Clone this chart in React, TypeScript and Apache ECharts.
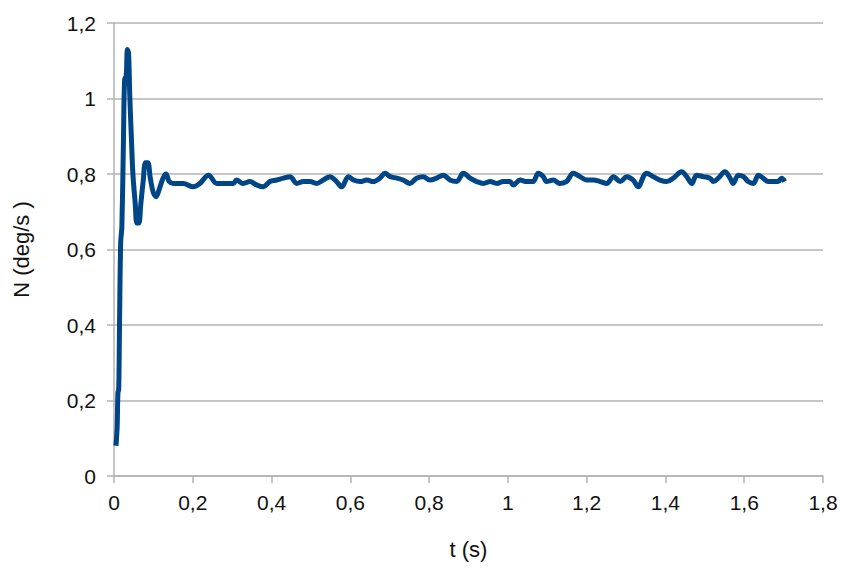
import React, { useEffect, useRef } from "react";
import * as echarts from "echarts";

const times: number[] = [
  0.005, 0.008, 0.010, 0.012, 0.014, 0.017, 0.020, 0.024, 0.027, 0.031, 0.034, 0.037,
  0.040, 0.044, 0.048, 0.054, 0.058, 0.063, 0.068, 0.074, 0.080, 0.086, 0.092, 0.100,
  0.107, 0.115, 0.125, 0.132, 0.140, 0.151, 0.176, 0.201, 0.218, 0.240, 0.261, 0.282,
  0.303, 0.311, 0.328, 0.345, 0.362, 0.379, 0.396, 0.413, 0.430, 0.447, 0.464, 0.481,
  0.498, 0.514, 0.531, 0.548, 0.565, 0.578, 0.595, 0.608, 0.625, 0.642, 0.658, 0.675,
  0.688, 0.701, 0.718, 0.734, 0.751, 0.768, 0.785, 0.802, 0.819, 0.836, 0.853, 0.870,
  0.887, 0.904, 0.921, 0.938, 0.955, 0.972, 0.988, 1.005, 1.014, 1.031, 1.048, 1.064,
  1.077, 1.090, 1.098, 1.115, 1.132, 1.149, 1.166, 1.183, 1.200, 1.217, 1.234, 1.251,
  1.268, 1.285, 1.302, 1.318, 1.331, 1.344, 1.352, 1.369, 1.386, 1.403, 1.420, 1.441,
  1.454, 1.467, 1.479, 1.496, 1.513, 1.522, 1.534, 1.551, 1.564, 1.572, 1.585, 1.598,
  1.610, 1.623, 1.636, 1.648, 1.661, 1.674, 1.686, 1.695, 1.703,
];

const values: number[] = [
  0.08, 0.13, 0.22, 0.23, 0.40, 0.62, 0.66, 0.89, 1.05, 1.06, 1.13, 1.12,
  1.01, 0.90, 0.80, 0.72, 0.67, 0.67, 0.72, 0.78, 0.83, 0.83, 0.79, 0.75,
  0.74, 0.76, 0.79, 0.80, 0.78, 0.775, 0.775, 0.766, 0.775, 0.797, 0.775, 0.775,
  0.775, 0.784, 0.775, 0.780, 0.771, 0.766, 0.780, 0.784, 0.789, 0.793, 0.775, 0.780,
  0.780, 0.775, 0.784, 0.793, 0.780, 0.766, 0.793, 0.784, 0.780, 0.784, 0.780, 0.789,
  0.802, 0.793, 0.789, 0.784, 0.775, 0.789, 0.793, 0.784, 0.789, 0.797, 0.784, 0.780,
  0.802, 0.789, 0.780, 0.775, 0.780, 0.775, 0.780, 0.780, 0.771, 0.784, 0.780, 0.780,
  0.802, 0.793, 0.780, 0.784, 0.775, 0.780, 0.802, 0.793, 0.784, 0.784, 0.780, 0.775,
  0.793, 0.780, 0.793, 0.784, 0.766, 0.793, 0.802, 0.793, 0.784, 0.780, 0.789, 0.806,
  0.793, 0.775, 0.797, 0.793, 0.789, 0.780, 0.789, 0.806, 0.789, 0.775, 0.797, 0.793,
  0.780, 0.775, 0.797, 0.789, 0.780, 0.780, 0.780, 0.789, 0.780,
];

const xTicks = { min: 0, max: 1.8, interval: 0.2 };
const yTicks = { min: 0, max: 1.2, interval: 0.2 };

const fmt = (v: number) => {
  const r = Math.round(v * 10) / 10;
  return String(r).replace(".", ",");
};

export default function App() {
  const ref = useRef<HTMLDivElement>(null);
  useEffect(() => {
    if (!ref.current) return;
    const chart = echarts.init(ref.current, undefined, { renderer: "svg" });
    const data = times.map((t, i) => [t, values[i]]);
    const axisGrey = "#b3b3b3";
    const font = "Liberation Sans";
    chart.setOption({
      animation: false,
      backgroundColor: "#ffffff",
      grid: {
        left: 114,
        right: 18,
        top: 23,
        bottom: 98,
        containLabel: false,
        outerBoundsMode: "none",
      },
      xAxis: {
        type: "value",
        min: xTicks.min,
        max: xTicks.max,
        interval: xTicks.interval,
        name: "t (s)",
        nameLocation: "middle",
        nameGap: 62,
        nameTextStyle: { fontFamily: font, fontSize: 22, color: "#111" },
        axisLine: { show: true, lineStyle: { color: axisGrey, width: 1.5 } },
        axisTick: { show: true, length: 7, lineStyle: { color: axisGrey, width: 1.5 } },
        axisLabel: {
          formatter: fmt,
          fontFamily: font,
          fontSize: 21,
          color: "#111",
          margin: 16,
          hideOverlap: false,
        },
        splitLine: { show: false },
      },
      yAxis: {
        type: "value",
        min: yTicks.min,
        max: yTicks.max,
        interval: yTicks.interval,
        name: "N (deg/s )",
        nameLocation: "middle",
        nameGap: 82,
        nameTextStyle: { fontFamily: font, fontSize: 22, color: "#111" },
        axisLine: { show: true, lineStyle: { color: axisGrey, width: 1.5 } },
        axisTick: { show: true, length: 7, lineStyle: { color: axisGrey, width: 1.5 } },
        axisLabel: {
          formatter: fmt,
          fontFamily: font,
          fontSize: 21,
          color: "#111",
          margin: 18,
        },
        splitLine: { show: true, lineStyle: { color: axisGrey, width: 1.5 } },
      },
      series: [
        {
          type: "line",
          data,
          showSymbol: false,
          smooth: 0.35,
          lineStyle: { color: "#004586", width: 5 },
          itemStyle: { color: "#004586" },
        },
      ],
    });
    return () => chart.dispose();
  }, []);
  return (
    <div
      ref={ref}
      style={{ position: "fixed", left: 0, top: 0, width: 841, height: 574 }}
    />
  );
}
